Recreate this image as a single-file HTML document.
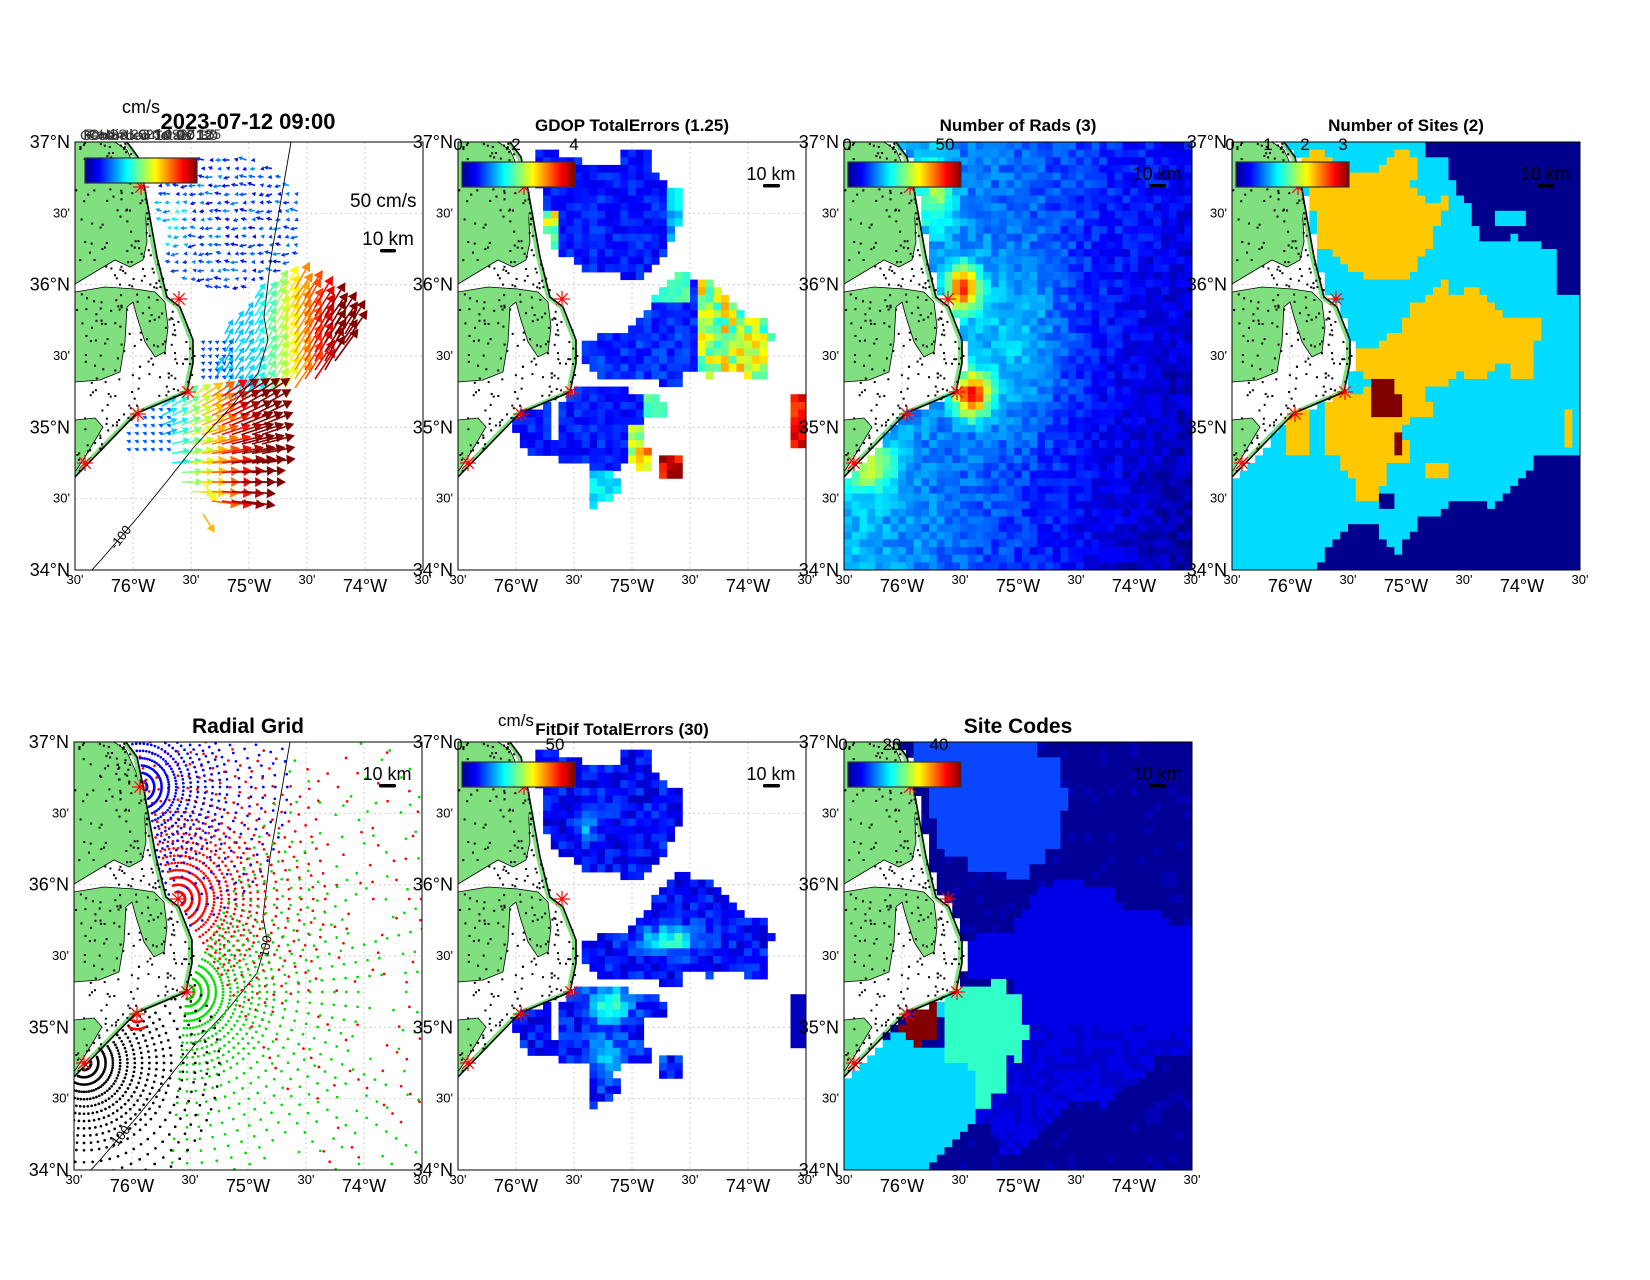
<!DOCTYPE html>
<html><head><meta charset="utf-8"><style>body{margin:0;background:#fff}svg text{font-family:"Liberation Sans",Arial,sans-serif}</style></head><body>
<svg id="s" width="1650" height="1275" xmlns="http://www.w3.org/2000/svg"></svg>
<script>
const W=348,H=428;
let seed=12345;function rnd(){seed=(seed*16807)%2147483647;return (seed-1)/2147483646;}
function hash(i,j,k){let h=Math.sin(i*127.1+j*311.7+k*74.7)*43758.5453;return h-Math.floor(h);}
function cl(v){return Math.max(0,Math.min(1,v));}
function jet(v){v=cl(v);const r=cl(1.5-Math.abs(4*v-3)),g=cl(1.5-Math.abs(4*v-2)),b=cl(1.5-Math.abs(4*v-1));return `rgb(${Math.round(r*255)},${Math.round(g*255)},${Math.round(b*255)})`;}
function g2(x,y,x0,y0,sx,sy){const a=(x-x0)/sx,b=(y-y0)/sy;return Math.exp(-(a*a+b*b));}
const COAST=[[52,0],[63,15],[70,48],[82,115],[92,155],[105,165],[118,198],[118,221],[112,250],[62,271],[0,335]];
function coastX(y){if(y<0)return 52;for(let k=0;k<COAST.length-1;k++){const a=COAST[k],b=COAST[k+1];if(y>=a[1]&&y<=b[1])return a[0]+(b[0]-a[0])*(y-a[1])/(b[1]-a[1]);}return -20;}
function pip(x,y,p){let c=false;for(let i=0,j=p.length-1;i<p.length;j=i++){const xi=p[i][0],yi=p[i][1],xj=p[j][0],yj=p[j][1];if(((yi>y)!=(yj>y))&&(x<(xj-xi)*(y-yi)/(yj-yi)+xi))c=!c;}return c;}
function Z(p,dx,dy){return p.map(q=>[q[0]/3+dx,q[1]/3+dy]);}
function pts(p){return p.map(q=>q[0].toFixed(1)+','+q[1].toFixed(1)).join(' ');}
function inR(x,y,r){return x>=r[0]&&x<=r[2]&&y>=r[1]&&y<=r[3];}
const LAND=[
[[0,0],[40,0],[52,8],[62,30],[70,60],[72,100],[68,118],[55,125],[40,118],[20,130],[0,142]],
[[0,150],[30,145],[60,147],[80,150],[90,160],[93,185],[90,210],[80,215],[70,200],[62,175],[58,160],[52,165],[50,200],[45,230],[25,238],[0,240]],
[[0,278],[20,276],[28,285],[10,315],[0,330]]];
let landStr='';
LAND.forEach(p=>landStr+=`<polygon points="${pts(p)}" fill="#80e080" stroke="#000" stroke-width="0.8"/>`);
landStr+=`<polyline points="${pts(COAST.map(q=>[q[0]-2,q[1]]))}" fill="none" stroke="#80e080" stroke-width="4"/>`;
let dotStr='';
for(let k=0;k<650;k++){const x=rnd()*125,y=rnd()*345,cx=coastX(y);if(x<cx+1&&(x>cx-25||rnd()<0.5))dotStr+=`<rect x="${x.toFixed(1)}" y="${y.toFixed(1)}" width="2" height="2" fill="#000"/>`;}
const coastStr=`<polyline points="${pts(COAST)}" fill="none" stroke="#000" stroke-width="1.6"/>`;
const STARS=[[66,45],[104,157],[113,250],[63,272],[10,321]];
let starStr='';
STARS.forEach(s=>{for(let a=0;a<180;a+=45){const r=8,c=Math.cos(a*Math.PI/180)*r,d=Math.sin(a*Math.PI/180)*r;starStr+=`<line x1="${(s[0]-c).toFixed(1)}" y1="${(s[1]-d).toFixed(1)}" x2="${(s[0]+c).toFixed(1)}" y2="${(s[1]+d).toFixed(1)}" stroke="#f00" stroke-width="1.2"/>`;}});
function bathy(lab){const p=[[216,0],[206,58],[196,115],[189,175],[193,198],[183,231],[156,265],[119,305],[93,338],[63,375],[26,418],[15,430]];
let s=`<polyline points="${pts(p)}" fill="none" stroke="#000" stroke-width="0.9"/>`;
s+=`<text x="49" y="398" font-size="13" transform="rotate(-52 49 398)" text-anchor="middle">-100</text>`;
if(lab)s+=`<text x="196" y="205" font-size="13" transform="rotate(-80 196 205)" text-anchor="middle">100</text>`;return s;}
function cells(fn,nx=45,ny=56){let s='';const cw=W/nx,ch=H/ny;for(let i=0;i<nx;i++)for(let j=0;j<ny;j++){const cx=(i+.5)*cw,cy=(j+.5)*ch;if(cx<coastX(cy)+3)continue;const c=fn(cx,cy,i,j);if(c)s+=`<rect x="${(i*cw).toFixed(2)}" y="${(j*ch).toFixed(2)}" width="${(cw+0.5).toFixed(2)}" height="${(ch+0.5).toFixed(2)}" fill="${c}"/>`;}return s;}
function colorbar(x,y,ticks){let s=`<rect x="${x}" y="${y}" width="113" height="25" fill="url(#jg)" stroke="#333" stroke-width="1.2"/>`;(ticks||[]).forEach(t=>s+=`<text x="${t[0]}" y="8" font-size="17" text-anchor="middle">${t[1]}</text>`);return s;}
function km(){return `<text x="313" y="38" font-size="18" text-anchor="middle">10 km</text><rect x="305" y="42" width="17" height="3.5" rx="1.5" fill="#000"/>`;}
function panel(px,py,id,o){
 let s=`<g transform="translate(${px},${py})"><clipPath id="c${id}"><rect width="${W}" height="${H}"/></clipPath><g clip-path="url(#c${id})">`;
 for(let k=1;k<6;k++){s+=`<line x1="${k*W/6}" y1="0" x2="${k*W/6}" y2="${H}" stroke="#c8c8c8" stroke-dasharray="2,3" stroke-width="0.9"/>`;s+=`<line x1="0" y1="${k*H/6}" x2="${W}" y2="${k*H/6}" stroke="#c8c8c8" stroke-dasharray="2,3" stroke-width="0.9"/>`;}
 s+=landStr+dotStr+(o.content||'')+coastStr+(o.bathy?bathy(o.lab):'')+(o.after||'')+starStr+'</g>';
 s+=`<rect width="${W}" height="${H}" fill="none" stroke="#000" stroke-width="1"/>`;
 const lat=["37°N","30'","36°N","30'","35°N","30'","34°N"],lon=["30'","76°W","30'","75°W","30'","74°W","30'"];
 lat.forEach((t,k)=>{const y=k*H/6;const big=t.length>3;s+=`<text x="-5" y="${(y+(big?6:4)).toFixed(1)}" font-size="${big?18:13}" text-anchor="end">${t}</text>`;});
 lon.forEach((t,k)=>{const x=k*W/6;const big=t.length>3;s+=`<text x="${x.toFixed(1)}" y="${H+(big?22:14)}" font-size="${big?18:13}" text-anchor="middle">${t}</text>`;});
 s+=(o.over||'')+'</g>';return s;}
let out=`<defs><linearGradient id="jg"><stop offset="0" stop-color="#00008f"/><stop offset="0.125" stop-color="#0000ff"/><stop offset="0.375" stop-color="#00ffff"/><stop offset="0.625" stop-color="#ffff00"/><stop offset="0.875" stop-color="#ff0000"/><stop offset="1" stop-color="#800000"/></linearGradient></defs><rect width="1650" height="1275" fill="#fff"/>`;
function arrow(x,y,ang,len,col){const a=ang*Math.PI/180,tx=x+len*Math.cos(a),ty=y+len*Math.sin(a);const hl=Math.max(4,Math.min(9,len*0.35)),hw=hl*0.55;const bx=tx-hl*Math.cos(a),by=ty-hl*Math.sin(a);const nx=-Math.sin(a)*hw,ny=Math.cos(a)*hw;
return `<line x1="${x.toFixed(1)}" y1="${y.toFixed(1)}" x2="${bx.toFixed(1)}" y2="${by.toFixed(1)}" stroke="${col}" stroke-width="1.6"/><polygon points="${tx.toFixed(1)},${ty.toFixed(1)} ${(bx+nx).toFixed(1)},${(by+ny).toFixed(1)} ${(bx-nx).toFixed(1)},${(by-ny).toFixed(1)}" fill="${col}"/>`;}
let vec='';seed=777;
for(let x=75;x<=220;x+=8.5)for(let y=18;y<=150;y+=8.5){if(x<coastX(y)+8)continue;if(g2(x,y,150,80,80,68)<0.37)continue;const v=0.12+0.15*rnd()+(x<110&&y>60&&y<110?0.12:0);vec+=arrow(x+3,y,160+40*rnd(),3+6*rnd(),jet(v));}
const MID=[[150,180],[185,140],[215,128],[262,168],[280,185],[245,228],[200,245],[150,252],[138,225]];
for(let x=140;x<=280;x+=10)for(let y=128;y<=252;y+=9){if(!pip(x,y,MID))continue;const v=cl(0.3+0.75*cl((x-175)/85)+0.05*rnd());vec+=arrow(x,y+10,-62+8*rnd(),6+34*v,jet(v));}
for(let x=128;x<=160;x+=7)for(let y=200;y<=236;y+=7){vec+=arrow(x,y,200,2.5,jet(0.2));}
const SOU=[[95,258],[150,245],[200,248],[205,290],[195,330],[175,365],[140,360],[110,340],[95,300]];
for(let x=95;x<=205;x+=10)for(let y=245;y<=365;y+=9.5){if(!pip(x,y,SOU))continue;const v=cl(0.32+0.7*cl((x-100)/75)+0.05*rnd());vec+=arrow(x-8,y,-35+45*(y-250)/115,8+26*v,jet(v));}
for(let x=52;x<=92;x+=8)for(let y=268;y<=311;y+=8){if(x<coastX(y)+4)continue;vec+=arrow(x+4,y,200,5,jet(0.22));}
vec+=arrow(128,340,55,24,jet(0.62))+arrow(128,372,58,22,jet(0.7));
let over1=`<rect x="10" y="16" width="112" height="25" fill="url(#jg)" stroke="#333" stroke-width="1.2"/>`;
out+=panel(75,142,1,{content:vec,bathy:true,lab:false,over:over1});
out+=`<text x="141" y="113" font-size="18" text-anchor="middle">cm/s</text><text x="248" y="129" font-size="22" font-weight="bold" text-anchor="middle">2023-07-12 09:00</text>`;
["Generated Totals 12","Radial Grid 0715","Colorbar 10 20 30","OHSS 2023 0900 125"].forEach((t,k)=>out+=`<text x="${80+k*3}" y="${140-k%2}" font-size="14" fill="#333" textLength="132" lengthAdjust="spacingAndGlyphs">${t}</text>`);
out+=`<text x="350" y="207" font-size="19">50 cm/s</text><text x="388" y="245" font-size="19" text-anchor="middle">10 km</text><rect x="380" y="249" width="16" height="3.5" rx="1.5" fill="#000"/>`;
const NZ=[[235,25],[300,25],[300,50],[370,50],[370,75],[490,75],[490,30],[580,30],[600,95],[690,170],[690,215],[670,250],[665,300],[625,330],[620,375],[555,400],[555,420],[490,420],[490,400],[400,395],[375,375],[350,350],[300,330],[260,260],[260,150],[235,140]];
const MZ=[[375,610],[420,590],[510,590],[535,540],[580,500],[605,450],[650,405],[690,405],[740,430],[780,430],[810,470],[855,520],[940,540],[945,580],[965,590],[945,610],[945,700],[920,720],[870,720],[850,690],[785,690],[785,720],[740,700],[690,700],[670,745],[625,745],[620,720],[440,720],[420,690],[375,650]];
const SZ=[[165,865],[190,815],[280,795],[280,910],[305,900],[330,750],[440,745],[520,750],[620,770],[640,835],[580,840],[560,860],[580,940],[580,975],[535,980],[490,960],[480,1020],[510,1045],[490,1070],[430,1080],[415,1110],[395,1110],[395,1020],[410,960],[305,975],[305,935],[210,935],[190,890],[165,885]];
const Np=Z(NZ,-3,-2),Mp=Z(MZ,-3,-2),Sp=Z(SZ,-3,-2);
const CL=[199,316,221,339],RE=[334,255,349,309];
const gdop=cells((x,y,i,j)=>{const h=hash(i,j,1);
 if(inR(x,y,CL))return jet(0.82+0.18*h);
 if(inR(x,y,RE))return jet(0.8+0.15*h);
 if(inR(x,y,[175,305,192,326]))return jet(0.55+0.25*h);
 if(pip(x,y,Np)){let v=0.1+0.1*h;if(x<100&&y>65)v=0.35+0.35*h;if(x>205)v=0.22+0.2*h;return jet(v);}
 if(pip(x,y,Mp)){let v=0.12+0.1*h;if(x>243)v=0.4+0.32*h;if(x>195&&x<230&&y<160)v=0.38+0.1*h;return jet(v);}
 if(pip(x,y,Sp)){let v=0.1+0.1*h;if(x>185&&y<285)v=0.4+0.1*h;if(x>170&&y>285)v=0.45+0.2*h;if(x>125&&y>330)v=0.3+0.1*h;return jet(v);}
 return null;});
out+=panel(458,142,2,{content:gdop,over:colorbar(4,20,[[0,0],[58,2],[116,4]])+km()});
out+=`<text x="632" y="131" font-size="17" font-weight="bold" text-anchor="middle">GDOP TotalErrors (1.25)</text>`;
const rads=cells((x,y,i,j)=>{const h=hash(i,j,2);let v=0.32-0.2*x/W-0.1*(x/W)*(y/H)+0.6*g2(x,y,119,146,16,22)+0.6*g2(x,y,128,253,18,22)+0.3*g2(x,y,28,326,22,22)+0.25*g2(x,y,91,53,18,35)+0.12*g2(x,y,170,200,50,90)+(h-0.5)*0.1;return jet(v);});
out+=panel(844,142,3,{content:rads,over:colorbar(4,20,[[3,0],[101,50]])+km()});
out+=`<text x="1018" y="131" font-size="17" font-weight="bold" text-anchor="middle">Number of Rads (3)</text>`;
const Q=p=>Z(p,-7,-2);
const OR1=Q([[235,45],[300,30],[360,95],[460,100],[490,50],[545,30],[580,80],[560,150],[620,185],[665,170],[665,215],[645,240],[600,345],[545,410],[480,425],[390,400],[340,345],[280,330],[270,260],[260,170],[235,130]]);
const OR2=Q([[370,635],[440,630],[520,570],[560,500],[660,425],[685,460],[760,445],[850,540],[945,545],[950,600],[920,620],[920,720],[880,725],[830,660],[770,720],[710,700],[640,745],[610,730],[610,790],[640,840],[550,840],[520,860],[540,890],[560,975],[490,975],[470,1050],[440,1090],[410,1100],[390,1030],[340,955],[300,950],[300,800],[320,770],[420,770],[430,730],[400,700],[370,670]]);
const OR3=[Q([[190,800],[260,800],[260,935],[190,935]]),Q([[600,960],[665,960],[665,1020],[600,1020]]),Q([[1010,800],[1050,800],[1050,930],[1010,930]])];
const RD=[Q([[440,725],[505,725],[505,770],[530,770],[530,840],[440,840]]),Q([[505,885],[530,885],[530,955],[505,955]])];
const NT=Q([[600,5],[1060,5],[1060,470],[990,470],[990,330],[940,330],[940,300],[900,310],[870,290],[760,305],[740,185],[690,165],[670,60],[600,55]]);
const NH=Q([[805,215],[900,215],[900,260],[805,260]]);
const NB=Q([[255,1300],[300,1245],[350,1185],[370,1160],[460,1160],[460,1195],[520,1250],[580,1140],[645,1120],[690,1075],[800,1100],[850,1045],[920,990],[940,935],[1060,935],[1060,1300]]);
const NB2=Q([[460,1070],[505,1070],[505,1115],[460,1115]]);
const sites=cells((x,y,i,j)=>{
 if(RD.some(p=>pip(x,y,p)))return '#800000';
 if(pip(x,y,OR1)||pip(x,y,OR2)||OR3.some(p=>pip(x,y,p)))return '#ffc800';
 if((pip(x,y,NT)&&!pip(x,y,NH))||pip(x,y,NB)||pip(x,y,NB2))return '#00008c';
 return '#00dcff';});
out+=panel(1232,142,4,{content:sites,over:colorbar(4,20,[[-2,0],[36,1],[73,2],[111,3]])+km()});
out+=`<text x="1406" y="131" font-size="17" font-weight="bold" text-anchor="middle">Number of Sites (2)</text>`;
function radial(cx,cy,a0,a1,rmin,rmax,col,sp,drop){let s='';let r=rmin;while(r<=rmax){for(let a=a0;a<=a1;a+=5){const x=cx+r*Math.cos(a*Math.PI/180),y=cy+r*Math.sin(a*Math.PI/180);if(x<coastX(y)+2)continue;if(r>sp&&rnd()<drop)continue;s+=`<circle cx="${x.toFixed(1)}" cy="${y.toFixed(1)}" r="1.35" fill="${col}"/>`;}r+=(r<80?7.3:12);}return s;}
seed=4242;
let rg=radial(104,157,-110,60,7,320,'#f00',150,0.6)+radial(113,250,-65,95,7,330,'#0d0',180,0.45)+radial(10,321,-40,120,7,140,'#000',999,0)+radial(63,272,60,120,8,16,'#f00',999,0)+radial(66,45,-100,75,7,150,'#00f',999,0);
out+=panel(74,742,5,{after:rg,bathy:true,lab:true,over:km()});
out+=`<text x="248" y="733" font-size="21" font-weight="bold" text-anchor="middle">Radial Grid</text>`;
const fit=cells((x,y,i,j)=>{const h=hash(i,j,3);
 if(inR(x,y,CL))return jet(0.05+0.2*h);
 if(inR(x,y,RE))return jet(0.06);
 if(pip(x,y,Np)||pip(x,y,Mp)||pip(x,y,Sp)){let v=0.06+0.14*h+0.28*g2(x,y,214,198,30,14)+0.3*g2(x,y,152,262,22,18)+0.18*g2(x,y,129,81,12,12)+0.15*g2(x,y,150,315,25,25);return jet(v);}
 return null;});
out+=panel(458,742,6,{content:fit,over:colorbar(4,20,[[0,0],[97,50]])+km()});
out+=`<text x="516" y="726" font-size="17" text-anchor="middle">cm/s</text><text x="622" y="735" font-size="17" font-weight="bold" text-anchor="middle">FitDif TotalErrors (30)</text>`;
const R=p=>Z(p,-4,-2);
const LB=R([[215,5],[600,5],[600,50],[670,50],[670,140],[695,145],[695,215],[670,225],[670,305],[625,330],[625,380],[580,380],[560,425],[490,425],[490,400],[395,400],[370,355],[310,335],[285,330],[280,240],[260,220],[260,140],[240,140],[215,50]]);
const MB=R([[380,600],[420,590],[510,570],[560,500],[600,445],[690,405],[740,430],[810,440],[860,520],[960,520],[1000,560],[1060,560],[1060,940],[940,940],[930,1000],[850,1050],[800,1100],[700,1080],[650,1130],[600,1180],[560,1230],[470,1240],[460,1170],[400,1130],[395,1100],[440,1070],[470,1050],[510,1000],[490,960],[530,880],[540,770],[510,720],[380,720]]);
const CY=R([[30,1010],[60,980],[100,930],[150,890],[200,880],[230,930],[300,930],[310,870],[285,770],[330,750],[330,960],[390,960],[420,990],[420,1090],[395,1100],[395,1160],[350,1190],[300,1250],[260,1280],[260,1300],[20,1300],[20,1010]]);
const AQ=R([[305,840],[330,750],[445,745],[445,725],[510,725],[510,770],[535,770],[535,860],[560,865],[560,890],[535,890],[535,960],[490,955],[490,1030],[510,1030],[510,1050],[445,1050],[445,1110],[400,1110],[400,1000],[375,960],[305,975],[305,935],[330,900],[305,865]]);
const RR=R([[170,860],[200,840],[230,800],[285,795],[285,905],[255,905],[255,930],[215,930],[215,890],[170,885]]);
const codes=cells((x,y,i,j)=>{const h=hash(i,j,4);
 if(pip(x,y,RR))return '#840000';
 if(pip(x,y,AQ))return '#30ffc8';
 if(pip(x,y,CY))return '#00d8ff';
 if(pip(x,y,LB))return '#0a46ff';
 if(pip(x,y,MB))return (y>280&&h<0.35)?'#0000c8':'#0000e8';
 return h<0.1?'#0000b4':'#000096';});
out+=panel(844,742,7,{content:codes,over:colorbar(4,20,[[-1,0],[48,20],[95,40]])+km()});
out+=`<text x="1018" y="733" font-size="21" font-weight="bold" text-anchor="middle">Site Codes</text>`;
document.getElementById('s').innerHTML=out;
</script>
</body></html>
